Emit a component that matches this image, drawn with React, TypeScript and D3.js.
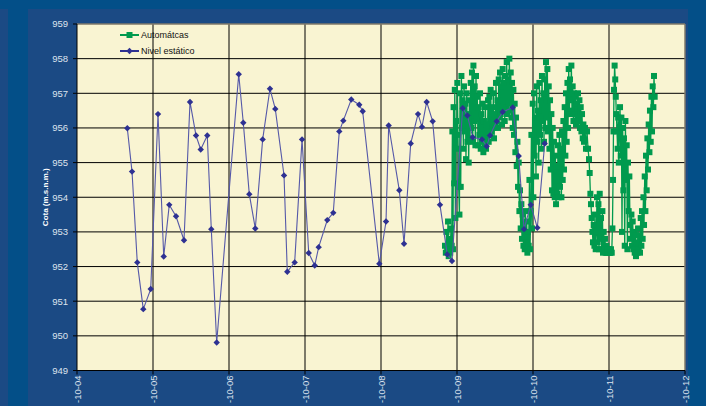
import React from "react";
import * as d3 from "d3";

const xTickLabels = ["-10-04", "-10-05", "-10-06", "-10-07", "-10-08", "-10-09", "-10-10", "-10-11", "-10-12"];
const yTickValues = [949, 950, 951, 952, 953, 954, 955, 956, 957, 958, 959];

// Nivel estático (days since first tick)
const nivelDays = [0.662, 0.724, 0.793, 0.872, 0.970, 1.066, 1.141, 1.214, 1.303, 1.408, 1.487, 1.566, 1.628, 1.714, 1.767, 1.838, 2.128, 2.188, 2.267, 2.346, 2.443, 2.539, 2.609, 2.724, 2.767, 2.864, 2.961, 3.049, 3.128, 3.180, 3.293, 3.372, 3.451, 3.504, 3.609, 3.714, 3.759, 3.978, 4.066, 4.101, 4.241, 4.303, 4.391, 4.487, 4.539, 4.601, 4.680, 4.776, 4.872, 4.934, 5.075, 5.136, 5.207, 5.329, 5.391, 5.434, 5.522, 5.601, 5.733, 5.812, 5.882, 5.970, 6.057, 6.154];
const nivelValues = [955.99, 954.74, 952.12, 950.77, 951.35, 956.40, 952.29, 953.78, 953.45, 952.76, 956.75, 955.78, 955.38, 955.78, 953.08, 949.81, 957.55, 956.15, 954.09, 953.10, 955.67, 957.13, 956.55, 954.63, 951.85, 952.12, 955.67, 952.39, 952.03, 952.56, 953.34, 953.55, 955.90, 956.21, 956.82, 956.67, 956.48, 952.08, 953.30, 956.07, 954.20, 952.66, 955.55, 956.40, 956.03, 956.75, 956.19, 953.78, 952.35, 952.16, 956.57, 956.36, 955.73, 955.67, 955.47, 955.78, 956.19, 956.46, 956.59, 955.19, 953.08, 953.78, 953.12, 955.55];

// Automáticas (days since first tick)
const autoDays = [
  4.842, 4.853, 4.862, 4.871, 4.882, 4.891, 4.901, 4.911, 4.921, 4.930, 4.939, 4.947, 4.955, 4.963, 4.971, 4.979, 4.987, 4.996, 5.004, 5.013,
  5.022, 5.032, 5.039, 5.049, 5.058, 5.066, 5.075, 5.084, 5.092, 5.101, 5.111, 5.118, 5.128, 5.137, 5.145, 5.154, 5.163, 5.171, 5.180, 5.189,
  5.197, 5.207, 5.216, 5.224, 5.233, 5.242, 5.250, 5.259, 5.268, 5.276, 5.286, 5.295, 5.303, 5.312, 5.321, 5.329, 5.338, 5.347, 5.355, 5.364,
  5.374, 5.382, 5.391, 5.400, 5.408, 5.417, 5.426, 5.434, 5.443, 5.453, 5.461, 5.470, 5.479, 5.487, 5.496, 5.505, 5.513, 5.522, 5.532, 5.539,
  5.549, 5.558, 5.566, 5.575, 5.584, 5.592, 5.601, 5.611, 5.618, 5.628, 5.637, 5.645, 5.654, 5.663, 5.671, 5.680, 5.689, 5.697, 5.707, 5.716,
  5.724, 5.733, 5.742, 5.750, 5.759, 5.768, 5.776, 5.786, 5.795, 5.803, 5.812, 5.821, 5.829, 5.838, 5.847, 5.855, 5.864, 5.874, 5.882, 5.891,
  5.900, 5.908, 5.917, 5.926, 5.934, 5.943, 5.953, 5.961, 5.970, 5.979, 5.987, 5.996, 6.005, 6.013, 6.022, 6.032, 6.039, 6.049, 6.058, 6.066,
  6.075, 6.084, 6.092, 6.101, 6.111, 6.118, 6.128, 6.137, 6.145, 6.154, 6.163, 6.171, 6.180, 6.189, 6.197, 6.207, 6.216, 6.224, 6.233, 6.242,
  6.250, 6.259, 6.268, 6.276, 6.286, 6.295, 6.303, 6.312, 6.321, 6.329, 6.338, 6.347, 6.355, 6.364, 6.374, 6.382, 6.391, 6.400, 6.408, 6.417,
  6.426, 6.434, 6.443, 6.453, 6.461, 6.470, 6.479, 6.487, 6.496, 6.505, 6.513, 6.522, 6.532, 6.539, 6.549, 6.558, 6.566, 6.575, 6.584, 6.592,
  6.601, 6.611, 6.618, 6.628, 6.637, 6.645, 6.654, 6.663, 6.671, 6.684, 6.697, 6.711, 6.724, 6.737, 6.746, 6.755, 6.763, 6.772, 6.782, 6.789,
  6.799, 6.808, 6.816, 6.825, 6.834, 6.842, 6.851, 6.861, 6.868, 6.878, 6.887, 6.895, 6.904, 6.913, 6.921, 6.930, 6.939, 6.947, 6.957, 6.966,
  6.974, 6.983, 6.992, 7.000, 7.009, 7.018, 7.026, 7.036, 7.045, 7.053, 7.059, 7.066, 7.074, 7.082, 7.089, 7.097, 7.105, 7.113, 7.121, 7.129,
  7.137, 7.145, 7.154, 7.163, 7.171, 7.180, 7.189, 7.197, 7.207, 7.216, 7.224, 7.233, 7.242, 7.250, 7.259, 7.268, 7.276, 7.286, 7.295, 7.303,
  7.312, 7.321, 7.329, 7.338, 7.347, 7.355, 7.364, 7.374, 7.382, 7.391, 7.400, 7.408, 7.417, 7.426, 7.434, 7.443, 7.453, 7.461, 7.470, 7.479,
  7.487, 7.496, 7.505, 7.513, 7.522, 7.532, 7.539, 7.549, 7.558, 7.566, 7.575, 7.584, 7.592, 7.601
];
const autoValues = [
  952.6, 952.4, 953.0, 952.5, 953.3, 952.3, 952.8, 952.4, 953.1, 952.6, 955.9, 952.5, 956.6, 954.4, 957.1, 953.4, 956.2, 955.4, 957.3, 955.8,
  954.3, 953.5, 957.0, 954.3, 957.5, 956.0, 956.8, 955.4, 957.2, 955.9, 956.7, 955.1, 957.0, 955.6, 956.4, 955.0, 956.8, 955.7, 957.3, 956.0,
  957.6, 955.6, 957.8, 956.2, 957.2, 955.5, 957.5, 956.3, 956.9, 955.5, 956.6, 955.8, 957.0, 955.4, 956.4, 955.6, 956.7, 955.3, 956.2, 955.5,
  956.6, 955.4, 956.1, 955.7, 956.8, 955.6, 956.9, 955.8, 957.1, 955.9, 956.6, 956.0, 957.0, 955.7, 956.4, 956.1, 957.3, 956.2, 956.8, 956.0,
  957.4, 956.3, 957.6, 956.4, 957.2, 956.1, 957.7, 956.5, 957.3, 956.2, 957.5, 956.6, 957.9, 956.4, 957.4, 956.7, 958.0, 956.5, 957.6, 956.3,
  957.3, 956.0, 957.1, 955.8, 956.7, 955.3, 956.3, 954.9, 955.6, 954.3, 955.0, 953.6, 954.2, 953.1, 953.8, 952.8, 953.5, 952.6, 953.2, 952.5,
  953.6, 952.7, 953.3, 952.4, 953.0, 952.6, 954.5, 952.5, 953.6, 955.8, 953.1, 956.7, 954.0, 957.0, 955.2, 956.3, 954.6, 957.2, 955.6, 956.5,
  955.0, 957.3, 955.8, 956.8, 955.4, 957.5, 956.2, 957.0, 955.6, 957.4, 956.0, 957.9, 956.3, 957.7, 955.9, 957.2, 955.4, 956.8, 954.8, 956.4,
  954.2, 956.0, 954.1, 955.6, 954.0, 955.2, 953.8, 954.9, 954.1, 955.5, 954.0, 955.8, 954.3, 955.4, 954.0, 955.9, 954.5, 956.2, 954.8, 956.6,
  955.2, 957.0, 955.6, 957.3, 956.0, 957.7, 956.4, 957.4, 956.8, 957.8, 956.5, 957.2, 956.2, 957.0, 956.4, 956.9, 956.1, 956.7, 956.3, 957.0,
  956.2, 956.8, 956.0, 956.6, 955.9, 956.4, 955.7, 956.1, 955.6, 956.0, 955.4, 955.9, 955.4, 955.1, 954.7, 954.1, 953.8, 953.4, 953.0, 952.7,
  953.2, 952.6, 953.5, 952.5, 953.0, 954.0, 952.7, 953.8, 952.5, 954.1, 952.8, 953.4, 952.5, 953.6, 952.4, 953.0, 952.5, 952.8, 952.4, 952.6,
  952.4, 952.5, 952.4, 952.5, 952.4, 952.4, 952.5, 952.4, 953.1, 954.5, 955.9, 957.1, 957.8, 957.4, 956.9, 956.4, 955.9, 955.4, 956.3, 955.0,
  956.0, 956.6, 955.2, 956.3, 953.0, 956.0, 954.2, 955.7, 952.6, 956.2, 954.5, 955.5, 952.5, 955.0, 953.6, 954.6, 953.2, 952.8, 953.5, 952.6,
  953.3, 952.5, 953.0, 952.4, 952.9, 952.3, 952.7, 952.4, 953.1, 952.5, 952.9, 952.4, 953.4, 952.6, 953.6, 952.8, 954.0, 953.2, 954.6, 953.6,
  955.2, 954.2, 955.7, 954.8, 956.1, 955.3, 956.5, 955.6, 956.9, 955.9, 957.2, 956.6, 957.5, 956.9
];

const W = 706;
const H = 406;
const GREEN = "#009a4e";
const BLUE = "#2e3192";
const DIAMOND = "M0,-3.2L3.2,0L0,3.2L-3.2,0Z";

export default function App() {
  const x = d3.scaleLinear().domain([0, xTickLabels.length - 1]).range([77, 685]);
  const y = d3.scaleLinear().domain([949, 959]).range([370.5, 24]);
  const line = d3.line<[number, number]>().x((d) => x(d[0])).y((d) => y(d[1]));
  const autoPts: [number, number][] = autoDays.map((d, i) => [d, autoValues[i]]);
  const nivelPts: [number, number][] = nivelDays.map((d, i) => [d, nivelValues[i]]);
  const font = "Arial, 'Liberation Sans', sans-serif";
  const x0 = x.range()[0], x1 = x.range()[1];
  const yTop = y.range()[1], yBot = y.range()[0];

  return (
    <svg width={W} height={H} style={{ position: "fixed", left: 0, top: 0 }} fontFamily={font}>
      <rect x={0} y={0} width={W} height={H} fill="#034f88" />
      <rect x={0} y={9} width={8} height={H - 9} fill="#1b4a84" />
      <rect x={28} y={9} width={660} height={H - 9} fill="#1b4a84" />
      <rect x={x0} y={yTop} width={x1 - x0} height={yBot - yTop} fill="#f9f4d2" />
      {yTickValues.slice(1, -1).map((v) => (
        <line key={"hy" + v} x1={x0} x2={x1} y1={y(v)} y2={y(v)} stroke="#000" strokeWidth={1} />
      ))}
      {xTickLabels.slice(1, -1).map((_, i) => (
        <line key={"vx" + i} x1={x(i + 1)} x2={x(i + 1)} y1={yTop} y2={yBot} stroke="#000" strokeWidth={1} />
      ))}
      <line x1={x0} x2={x1} y1={yTop} y2={yTop} stroke="#807a6a" strokeWidth={1.5} />
      <line x1={x1} x2={x1} y1={yTop} y2={yBot} stroke="#807a6a" strokeWidth={1.5} />
      <line x1={x0} x2={x0} y1={yTop} y2={yBot} stroke="#000" strokeWidth={1} />
      <line x1={x0} x2={x1} y1={yBot} y2={yBot} stroke="#000" strokeWidth={1} />
      {yTickValues.map((v) => (
        <g key={"yt" + v}>
          <line x1={x0 - 4} x2={x0} y1={y(v)} y2={y(v)} stroke="#000" />
          <text x={x0 - 9} y={y(v)} dy="0.35em" textAnchor="end" fontSize={9.5} fill="#dde3ee">{v}</text>
        </g>
      ))}
      {xTickLabels.map((lab, i) => (
        <g key={"xt" + i}>
          <line x1={x(i)} x2={x(i)} y1={yBot} y2={yBot + 4} stroke="#000" />
          <text transform={`translate(${x(i) + 3.5},${yBot + 5}) rotate(-90)`} textAnchor="end" fontSize={9.5} fill="#dde3ee">{lab}</text>
        </g>
      ))}
      <text transform={`translate(48,${(yTop + yBot) / 2}) rotate(-90)`} textAnchor="middle" fontSize={8} fontWeight="bold" fill="#ffffff">Cota (m.s.n.m.)</text>

      <path d={line(autoPts) || ""} fill="none" stroke={GREEN} strokeWidth={1.3} />
      {autoPts.map((p, i) => (
        <rect key={"a" + i} x={x(p[0]) - 3} y={y(p[1]) - 3} width={6} height={6} fill={GREEN} />
      ))}
      <path d={line(nivelPts) || ""} fill="none" stroke="#5558a8" strokeWidth={1.1} />
      {nivelPts.map((p, i) => (
        <path key={"n" + i} d={DIAMOND} transform={`translate(${x(p[0])},${y(p[1])})`} fill={BLUE} />
      ))}

      <line x1={120} x2={139} y1={35} y2={35} stroke={GREEN} strokeWidth={2} />
      <rect x={126.5} y={32} width={6} height={6} fill={GREEN} />
      <text x={141} y={35} dy="0.35em" fontSize={9} fill="#111">Automátcas</text>
      <line x1={120} x2={139} y1={51} y2={51} stroke={BLUE} strokeWidth={2} />
      <path d={DIAMOND} transform="translate(129.5,51)" fill={BLUE} />
      <text x={141} y={51} dy="0.35em" fontSize={9} fill="#111">Nivel estático</text>
    </svg>
  );
}
